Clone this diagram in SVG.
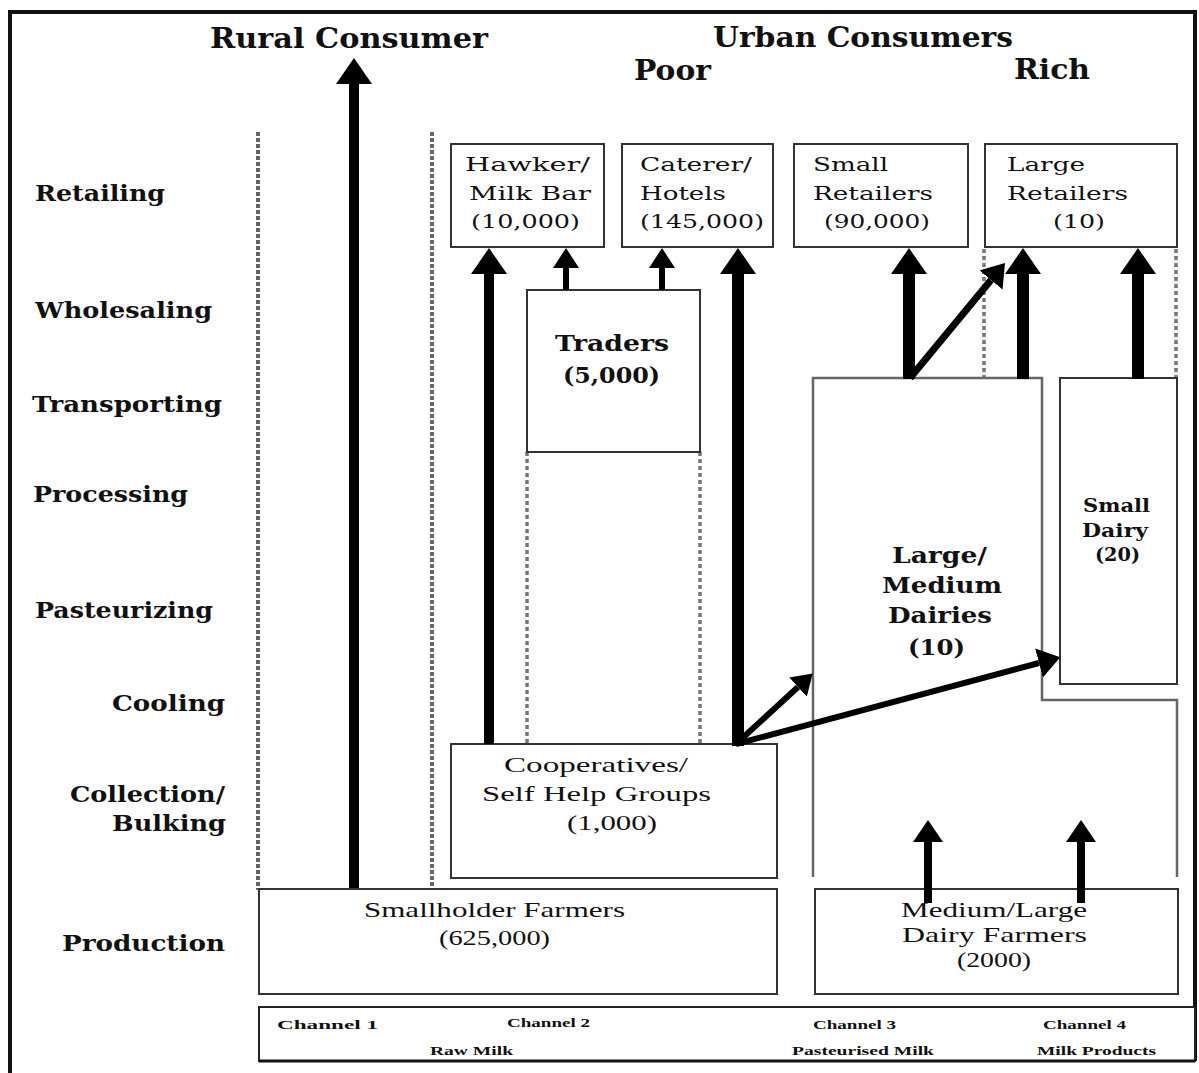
<svg xmlns="http://www.w3.org/2000/svg" width="1199" height="1073" viewBox="0 0 1199 1073">
<style>
.t{font-family:"DejaVu Serif","Liberation Serif",serif;fill:#111}
.title{font-size:27px;font-weight:bold}
.lab{font-size:22px;font-weight:bold}
.node{font-size:19px}
.bnode{font-size:22px;font-weight:bold}
.sd{font-size:18px;font-weight:bold}
.tm{font-family:"Liberation Serif",serif;font-size:22px;fill:#111}
.ch{font-family:"Liberation Serif",serif;font-size:13px;font-weight:bold;fill:#111}
.box{fill:#fff;stroke:#333;stroke-width:2}
.gl{fill:none;stroke:#666;stroke-width:2.5}
.dot{fill:none;stroke:#666;stroke-width:4;stroke-dasharray:4 2}
.dot2{fill:none;stroke:#777;stroke-width:3.5;stroke-dasharray:4 3}
.ar{fill:none;stroke:#000}
</style>
<defs>
<marker id="big" markerUnits="userSpaceOnUse" markerWidth="26" markerHeight="36" refX="0" refY="18" orient="auto"><path d="M0,0 L26,18 L0,36 z" fill="#000"/></marker>
<marker id="mid" markerUnits="userSpaceOnUse" markerWidth="22" markerHeight="30" refX="0" refY="15" orient="auto"><path d="M0,0 L22,15 L0,30 z" fill="#000"/></marker>
<marker id="sml" markerUnits="userSpaceOnUse" markerWidth="20" markerHeight="26" refX="0" refY="13" orient="auto"><path d="M0,0 L20,13 L0,26 z" fill="#000"/></marker>
</defs>
<rect width="1199" height="1073" fill="#fff"/>

<g id="frame">
<path d="M10,1073 L10,12 L1195,12 L1195,1061" fill="none" stroke="#111" stroke-width="4"/>
</g>

<g id="headers">
<text class="t title" x="210" y="48" textLength="278" lengthAdjust="spacingAndGlyphs">Rural Consumer</text>
<text class="t title" x="713" y="47" textLength="300" lengthAdjust="spacingAndGlyphs">Urban Consumers</text>
<text class="t title" x="634" y="80" textLength="77" lengthAdjust="spacingAndGlyphs">Poor</text>
<text class="t title" x="1014" y="79" textLength="76" lengthAdjust="spacingAndGlyphs">Rich</text>
</g>

<g id="stages">
<text class="t lab" x="35" y="201" textLength="130" lengthAdjust="spacingAndGlyphs">Retailing</text>
<text class="t lab" x="35" y="318" textLength="177" lengthAdjust="spacingAndGlyphs">Wholesaling</text>
<text class="t lab" x="32" y="412" textLength="190" lengthAdjust="spacingAndGlyphs">Transporting</text>
<text class="t lab" x="33" y="502" textLength="155" lengthAdjust="spacingAndGlyphs">Processing</text>
<text class="t lab" x="35" y="618" textLength="178" lengthAdjust="spacingAndGlyphs">Pasteurizing</text>
<text class="t lab" x="112" y="711" textLength="113" lengthAdjust="spacingAndGlyphs">Cooling</text>
<text class="t lab" x="70" y="802" textLength="155" lengthAdjust="spacingAndGlyphs">Collection/</text>
<text class="t lab" x="112" y="831" textLength="114" lengthAdjust="spacingAndGlyphs">Bulking</text>
<text class="t lab" x="62" y="951" textLength="163" lengthAdjust="spacingAndGlyphs">Production</text>
</g>

<g id="guides">
<line class="dot" x1="258" y1="132" x2="258" y2="890"/>
<line class="dot" x1="432" y1="132" x2="432" y2="890"/>
<line class="dot2" x1="527" y1="452" x2="527" y2="744"/>
<line class="dot2" x1="700" y1="452" x2="700" y2="744"/>
<line class="dot2" x1="984" y1="249" x2="984" y2="378"/>
<line class="dot2" x1="1176" y1="249" x2="1176" y2="378"/>
</g>

<g id="hawker">
<rect class="box" x="451" y="144" width="153" height="103"/>
<text class="t node" x="465" y="171" textLength="125" lengthAdjust="spacingAndGlyphs">Hawker/</text>
<text class="t node" x="469" y="200" textLength="122" lengthAdjust="spacingAndGlyphs">Milk Bar</text>
<text class="t node" x="471" y="228" textLength="109" lengthAdjust="spacingAndGlyphs">(10,000)</text>
</g>
<g id="caterer">
<rect class="box" x="622" y="144" width="151" height="103"/>
<text class="t node" x="640" y="171" textLength="112" lengthAdjust="spacingAndGlyphs">Caterer/</text>
<text class="t node" x="640" y="200" textLength="86" lengthAdjust="spacingAndGlyphs">Hotels</text>
<text class="t node" x="640" y="228" textLength="124" lengthAdjust="spacingAndGlyphs">(145,000)</text>
</g>
<g id="small-retailers">
<rect class="box" x="794" y="144" width="174" height="103"/>
<text class="t node" x="813" y="171" textLength="75" lengthAdjust="spacingAndGlyphs">Small</text>
<text class="t node" x="813" y="200" textLength="120" lengthAdjust="spacingAndGlyphs">Retailers</text>
<text class="t node" x="824" y="228" textLength="106" lengthAdjust="spacingAndGlyphs">(90,000)</text>
</g>
<g id="large-retailers">
<rect class="box" x="985" y="144" width="192" height="103"/>
<text class="t node" x="1007" y="171" textLength="78" lengthAdjust="spacingAndGlyphs">Large</text>
<text class="t node" x="1007" y="200" textLength="121" lengthAdjust="spacingAndGlyphs">Retailers</text>
<text class="t node" x="1053" y="228" textLength="52" lengthAdjust="spacingAndGlyphs">(10)</text>
</g>
<g id="traders">
<rect class="box" x="527" y="290" width="173" height="162"/>
<text class="t bnode" x="555" y="351" textLength="114" lengthAdjust="spacingAndGlyphs">Traders</text>
<text class="t bnode" x="563" y="383" textLength="97" lengthAdjust="spacingAndGlyphs">(5,000)</text>
</g>
<g id="large-medium-dairies">
<path class="gl" d="M813,877 L813,378 L1042,378 L1042,700 L1177,700 L1177,877"/>
<text class="t bnode" x="892" y="563" textLength="95" lengthAdjust="spacingAndGlyphs">Large/</text>
<text class="t bnode" x="882" y="593" textLength="120" lengthAdjust="spacingAndGlyphs">Medium</text>
<text class="t bnode" x="888" y="623" textLength="104" lengthAdjust="spacingAndGlyphs">Dairies</text>
<text class="t bnode" x="908" y="655" textLength="57" lengthAdjust="spacingAndGlyphs">(10)</text>
</g>
<g id="small-dairy">
<rect class="box" x="1060" y="378" width="117" height="306"/>
<text class="t sd" x="1083" y="512" textLength="67" lengthAdjust="spacingAndGlyphs">Small</text>
<text class="t sd" x="1082" y="537" textLength="66" lengthAdjust="spacingAndGlyphs">Dairy</text>
<text class="t sd" x="1095" y="561" textLength="45" lengthAdjust="spacingAndGlyphs">(20)</text>
</g>
<g id="cooperatives">
<rect class="box" x="451" y="744" width="326" height="134"/>
<text class="tm" x="504" y="772" textLength="184" lengthAdjust="spacingAndGlyphs">Cooperatives/</text>
<text class="tm" x="482" y="801" textLength="229" lengthAdjust="spacingAndGlyphs">Self Help Groups</text>
<text class="tm" x="567" y="830" textLength="90" lengthAdjust="spacingAndGlyphs">(1,000)</text>
</g>
<g id="smallholder-farmers">
<rect class="box" x="259" y="889" width="518" height="105"/>
<text class="tm" x="364" y="917" textLength="261" lengthAdjust="spacingAndGlyphs">Smallholder Farmers</text>
<text class="tm" x="439" y="945" textLength="111" lengthAdjust="spacingAndGlyphs">(625,000)</text>
</g>
<g id="dairy-farmers">
<rect class="box" x="815" y="889" width="363" height="105"/>
<text class="tm" x="901" y="917" textLength="186" lengthAdjust="spacingAndGlyphs">Medium/Large</text>
<text class="tm" x="902" y="942" textLength="185" lengthAdjust="spacingAndGlyphs">Dairy Farmers</text>
<text class="tm" x="957" y="967" textLength="74" lengthAdjust="spacingAndGlyphs">(2000)</text>
</g>
<g id="channels">
<rect x="259" y="1007" width="936" height="54" fill="#fff" stroke="#222" stroke-width="2"/>
<line x1="259" y1="1061" x2="1195" y2="1061" stroke="#111" stroke-width="3"/>
<text class="ch" x="277" y="1029" textLength="101" lengthAdjust="spacingAndGlyphs">Channel 1</text>
<text class="ch" x="507" y="1027" textLength="83" lengthAdjust="spacingAndGlyphs">Channel 2</text>
<text class="ch" x="813" y="1029" textLength="83" lengthAdjust="spacingAndGlyphs">Channel 3</text>
<text class="ch" x="1043" y="1029" textLength="83" lengthAdjust="spacingAndGlyphs">Channel 4</text>
<text class="ch" x="430" y="1055" textLength="83" lengthAdjust="spacingAndGlyphs">Raw Milk</text>
<text class="ch" x="792" y="1055" textLength="142" lengthAdjust="spacingAndGlyphs">Pasteurised Milk</text>
<text class="ch" x="1037" y="1055" textLength="119" lengthAdjust="spacingAndGlyphs">Milk Products</text>
</g>

<g id="connectors">
<line class="ar" x1="354" y1="888" x2="354" y2="84" stroke-width="10" marker-end="url(#big)"/>
<line class="ar" x1="489" y1="744" x2="489" y2="274" stroke-width="10" marker-end="url(#big)"/>
<line class="ar" x1="566" y1="290" x2="566" y2="268" stroke-width="6" marker-end="url(#sml)"/>
<line class="ar" x1="662" y1="290" x2="662" y2="268" stroke-width="6" marker-end="url(#sml)"/>
<line class="ar" x1="738" y1="746" x2="738" y2="274" stroke-width="12" marker-end="url(#big)"/>
<line class="ar" x1="909" y1="379" x2="909" y2="274" stroke-width="12" marker-end="url(#big)"/>
<line class="ar" x1="910" y1="378" x2="991" y2="280" stroke-width="7" marker-end="url(#mid)"/>
<line class="ar" x1="1023" y1="379" x2="1023" y2="274" stroke-width="12" marker-end="url(#big)"/>
<line class="ar" x1="1138" y1="379" x2="1138" y2="274" stroke-width="12" marker-end="url(#big)"/>
<line class="ar" x1="736" y1="744" x2="798" y2="687" stroke-width="6" marker-end="url(#sml)"/>
<line class="ar" x1="736" y1="744" x2="1039" y2="663" stroke-width="6" marker-end="url(#mid)"/>
<line class="ar" x1="928" y1="903" x2="928" y2="842" stroke-width="8" marker-end="url(#mid)"/>
<line class="ar" x1="1081" y1="903" x2="1081" y2="842" stroke-width="8" marker-end="url(#mid)"/>
</g>
</svg>
